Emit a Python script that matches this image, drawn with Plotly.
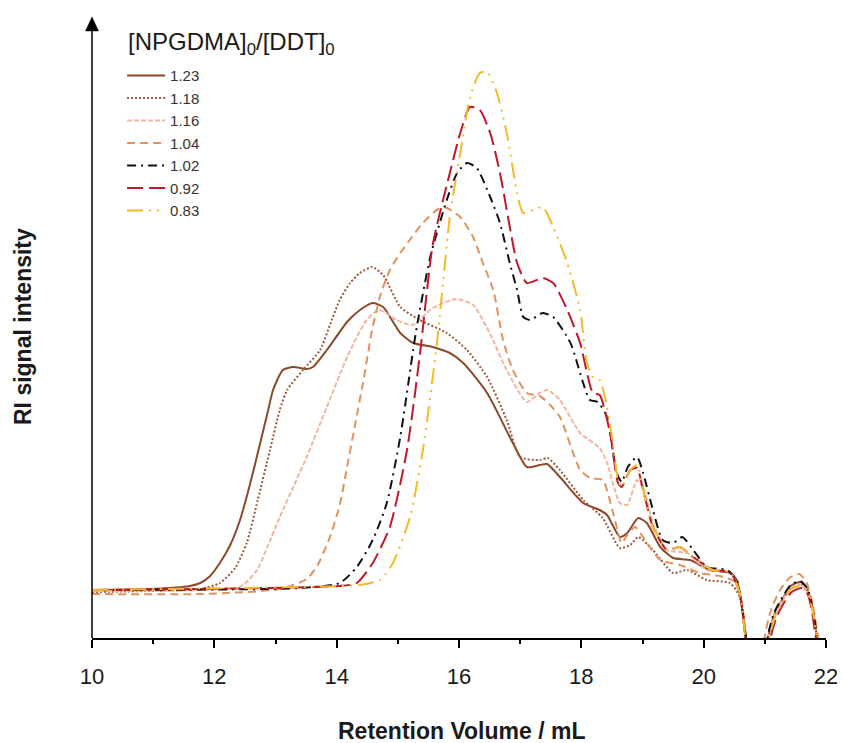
import plotly.graph_objects as go

# ---------------- data ----------------
labels = ["1.23", "1.18", "1.16", "1.04", "1.02", "0.92", "0.83"]
legend_title = "[NPGDMA]<sub>0</sub>/[DDT]<sub>0</sub>"

x_123 = [10.00, 10.95, 11.60, 11.77, 11.93, 12.09, 12.26, 12.42, 12.58, 12.75, 12.88, 12.96, 13.12, 13.29,
         13.51, 13.61, 13.84, 14.17, 14.38, 14.59, 14.76, 15.04, 15.25, 15.57, 15.85, 16.07, 16.46, 16.88,
         17.11, 17.32, 17.44, 17.65, 18.03, 18.30, 18.42, 18.63, 18.75, 18.93, 19.07, 19.29, 19.50, 19.78,
         20.10, 20.43, 20.54, 20.64, 20.71, 20.85,
         21.06, 21.16, 21.31, 21.42, 21.58, 21.70, 21.78, 21.85, 21.90]
y_123 = [46, 47, 50, 53, 60, 73, 91, 116, 151, 193, 226, 246, 266, 269,
         267, 269, 286, 314, 326, 333, 329, 303, 293, 289, 283, 273, 243, 193,
         169, 171, 172, 159, 133, 126, 121, 99, 103, 118, 113, 89, 78, 76,
         66, 63, 56, 23, -14, -120,
         0, 22, 39, 50, 54, 46, 27, 0, -20]

x_118 = [10.00, 10.95, 11.77, 12.09, 12.34, 12.53, 12.71, 12.91, 13.07, 13.19, 13.45, 13.73, 13.89, 14.05,
         14.22, 14.38, 14.58, 14.76, 15.04, 15.36, 15.80, 16.13, 16.46, 16.78, 17.00, 17.32, 17.45, 17.65,
         18.03, 18.35, 18.63, 18.80, 18.93, 19.17, 19.50, 19.73, 20.05, 20.43, 20.59, 20.68, 20.85,
         21.06, 21.16, 21.31, 21.42, 21.58, 21.70, 21.78, 21.85, 21.90]
y_118 = [44, 45, 47, 53, 68, 93, 136, 186, 226, 246, 266, 286, 311, 336,
         353, 363, 369, 361, 329, 316, 303, 286, 259, 216, 179, 176, 178, 166,
         136, 118, 88, 91, 99, 86, 63, 66, 56, 53, 39, -1, -120,
         0, 21, 38, 48, 52, 45, 26, 0, -20]

x_116 = [10.00, 11.77, 12.42, 12.70, 12.88, 13.07, 13.29, 13.51, 13.84, 14.17, 14.49, 14.70, 14.98, 15.24,
         15.57, 15.96, 16.23, 16.50, 16.78, 17.11, 17.32, 17.45, 17.65, 17.98, 18.30, 18.42, 18.63, 18.75,
         18.91, 19.01, 19.17, 19.40, 19.73, 20.05, 20.43, 20.59, 20.68, 20.85,
         21.06, 21.16, 21.31, 21.42, 21.58, 21.70, 21.78, 21.85, 21.90]
y_116 = [45, 46, 49, 66, 91, 119, 149, 179, 229, 279, 316, 326, 316, 311,
         328, 337, 331, 303, 266, 234, 243, 246, 236, 203, 188, 173, 133, 131,
         156, 149, 113, 86, 83, 66, 64, 43, -1, -120,
         0, 21, 38, 48, 52, 45, 26, 0, -20]

x_104 = [10.00, 11.77, 13.07, 13.51, 13.69, 13.89, 14.05, 14.17, 14.30, 14.43, 14.58, 14.71, 14.87, 15.04,
         15.23, 15.41, 15.66, 15.80, 16.02, 16.23, 16.39, 16.56, 16.72, 16.88, 17.11, 17.32, 17.49, 17.65,
         17.98, 18.14, 18.35, 18.52, 18.66, 18.75, 18.88, 19.04, 19.29, 19.61, 19.94, 20.27, 20.51, 20.63,
         20.68, 20.85,
         21.00, 21.10, 21.25, 21.40, 21.56, 21.68, 21.78, 21.87, 21.92]
y_104 = [42, 42, 47, 57, 71, 99, 131, 169, 211, 253, 306, 340, 366, 383,
         399, 413, 427, 428, 419, 399, 373, 346, 296, 266, 243, 240, 231, 219,
         166, 158, 156, 123, 93, 101, 109, 96, 76, 71, 63, 60, 54, 31,
         -1, -120,
         0, 26, 46, 58, 62, 54, 32, 0, -20]

x_102 = [10.00, 13.40, 14.05, 14.33, 14.59, 14.82, 15.04, 15.25, 15.31, 15.53, 15.80, 15.97, 16.13, 16.29,
         16.51, 16.67, 16.83, 16.95, 17.05, 17.16, 17.37, 17.54, 17.77, 17.85, 18.03, 18.14, 18.27, 18.42,
         18.58, 18.66, 18.76, 18.91, 19.01, 19.17, 19.33, 19.50, 19.65, 19.83, 20.05, 20.38, 20.54, 20.64,
         20.69, 20.85,
         21.05, 21.15, 21.30, 21.42, 21.58, 21.70, 21.78, 21.85, 21.90]
y_102 = [46, 48, 53, 69, 96, 133, 199, 286, 309, 379, 436, 463, 473, 468,
         439, 413, 373, 346, 319, 316, 323, 319, 299, 289, 253, 236, 234, 219,
         163, 154, 169, 179, 163, 126, 96, 93, 99, 86, 69, 66, 56, 23,
         -1, -120,
         0, 23, 40, 51, 55, 47, 28, 0, -20]

x_092 = [10.00, 14.05, 14.33, 14.59, 14.87, 15.15, 15.36, 15.57, 15.85, 16.02, 16.18, 16.34, 16.51, 16.67,
         16.83, 16.95, 17.11, 17.37, 17.54, 17.77, 17.98, 18.19, 18.30, 18.47, 18.60, 18.66, 18.80, 18.91,
         19.01, 19.17, 19.40, 19.61, 19.83, 20.15, 20.43, 20.59, 20.68, 20.85,
         21.10, 21.20, 21.33, 21.44, 21.60, 21.70, 21.77, 21.83, 21.90]
y_092 = [46, 50, 53, 73, 109, 186, 281, 391, 463, 503, 529, 526, 503, 463,
         409, 373, 353, 358, 353, 326, 293, 243, 241, 203, 153, 149, 166, 168,
         146, 109, 86, 89, 79, 66, 64, 43, -1, -120,
         0, 20, 35, 44, 48, 42, 25, 0, -20]

x_083 = [10.00, 13.40, 14.38, 14.71, 14.92, 15.20, 15.41, 15.64, 15.85, 16.02, 16.18, 16.34, 16.46, 16.62,
         16.78, 16.95, 17.05, 17.21, 17.37, 17.54, 17.77, 17.98, 18.09, 18.19, 18.30, 18.39, 18.50, 18.60,
         18.66, 18.80, 18.91, 19.01, 19.17, 19.40, 19.61, 19.83, 20.15, 20.43, 20.59, 20.68, 20.85,
         21.08, 21.18, 21.32, 21.43, 21.59, 21.70, 21.78, 21.85, 21.90]
y_083 = [46, 49, 51, 56, 73, 119, 186, 293, 419, 483, 539, 563, 564, 543,
         503, 443, 423, 426, 429, 409, 373, 326, 273, 259, 256, 238, 199, 156,
         149, 166, 171, 146, 109, 86, 89, 79, 66, 64, 43, -1, -120,
         0, 21, 37, 47, 50, 43, 26, 0, -20]

xs = [x_123, x_118, x_116, x_104, x_102, x_092, x_083]
ys = [y_123, y_118, y_116, y_104, y_102, y_092, y_083]

# ---------------- styles ----------------
colors = ["#8b4a2b", "#9c5a3a", "#f2b6a2", "#e0925f", "#111111", "#c0182a", "#f3bb2b"]
dashes = ["solid", "2px,2px", "5px,2px", "8px,5px", "9px,5px,2px,5px", "16px,6px", "16px,6px,2px,6px,2px,6px"]

fig = go.Figure()
for lab, x, y, c, d in zip(labels, xs, ys, colors, dashes):
    fig.add_trace(go.Scatter(x=x, y=y, mode="lines", name=lab, legendgroup=lab,
                             line=dict(color=c, dash=d, width=2, shape="spline", smoothing=0.6)))

FONT = "Liberation Sans, Arial, sans-serif"

# page body has an 8px margin: figure is shrunk/shifted to compensate
fig.update_layout(
    width=837, height=735,
    margin=dict(l=84, r=19, t=8, b=105),
    paper_bgcolor="white", plot_bgcolor="white",
    font=dict(family=FONT, color="#1a1a1a"),
    showlegend=True,
    legend=dict(
        x=0.041, y=0.9305, xanchor="left", yanchor="top",
        bgcolor="rgba(0,0,0,0)", borderwidth=0,
        font=dict(size=15, family=FONT, color="#333333"),
        tracegroupgap=0, itemwidth=38,
    ),
    xaxis=dict(
        range=[10, 22], tick0=10, dtick=2,
        showline=True, linecolor="black", linewidth=1.5,
        ticks="outside", ticklen=8, tickwidth=1.5, tickcolor="black",
        minor=dict(dtick=1, ticks="outside", ticklen=4, tickwidth=1.5, tickcolor="black"),
        showgrid=False, zeroline=False,
        tickfont=dict(size=22, family=FONT, color="#1a1a1a"),
        ticklabelstandoff=10,
    ),
    yaxis=dict(range=[-2, 620], visible=False, showgrid=False, zeroline=False),
)

# y axis line with arrow head (paper-referenced shapes so they are not clipped)
fig.add_shape(type="line", xref="paper", yref="paper", x0=0, x1=0, y0=0, y1=0.982,
              line=dict(color="black", width=1.5))
fig.add_shape(type="path", xref="paper", yref="paper", xsizemode="pixel", ysizemode="pixel",
              xanchor=0, yanchor=0.976, path="M-6.5,0 L6.5,0 L0,14 Z",
              fillcolor="black", line=dict(color="black", width=0.5))

# legend title
fig.add_annotation(x=0.0465, y=0.955, xref="paper", yref="paper", showarrow=False,
                   text=legend_title, font=dict(size=24, family=FONT, color="#1a1a1a"),
                   xanchor="left", yanchor="middle")

# axis titles
fig.add_annotation(x=0.504, y=-0.1495, xref="paper", yref="paper", showarrow=False,
                   text="<b>Retention Volume / mL</b>", font=dict(size=23, family=FONT, color="#1a1a1a"),
                   xanchor="center", yanchor="middle")
fig.add_annotation(x=-0.094, y=0.5, xref="paper", yref="paper", showarrow=False, textangle=-90,
                   text="<b>RI signal intensity</b>", font=dict(size=23, family=FONT, color="#1a1a1a"),
                   xanchor="center", yanchor="middle")

fig.write_html("out.html")
